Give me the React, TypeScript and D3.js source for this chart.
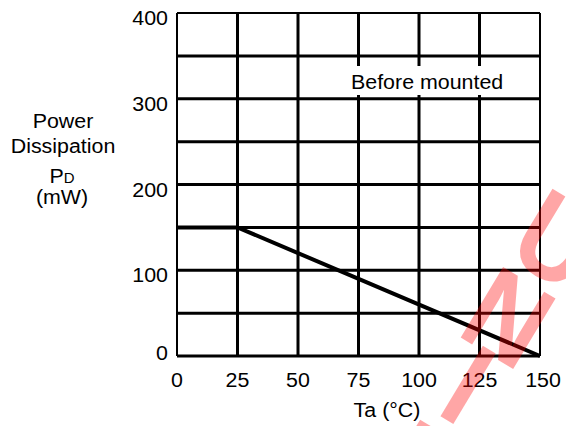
import React from "react";
import * as d3 from "d3";

const tempC = [0, 25, 150];
const powerMW = [150, 150, 0];
const xTicks = [0, 25, 50, 75, 100, 125, 150];
const yTicks = [0, 100, 200, 300, 400];
const yGrid = [0, 50, 100, 150, 200, 250, 300, 350, 400];
const yTitle = ["Power", "Dissipation"];
const xTitle = "Ta (°C)";
const noteLabel = "Before mounted";
const watermarkChars = ["-", "I", "N", "U"];
const watermarkPos: [number, number][] = [
  [433, 424],
  [468, 385],
  [508, 318],
  [558, 240],
];

const W = 566;
const H = 426;
const FONT = "'Liberation Sans', Arial, sans-serif";
const FS = 20;
const SX = 1.07;

function T({
  x,
  y,
  anchor = "start",
  children,
}: {
  x: number;
  y: number;
  anchor?: "start" | "middle" | "end";
  children: React.ReactNode;
}) {
  return (
    <text
      transform={`translate(${x},${y}) scale(${SX},1)`}
      fontSize={FS}
      textAnchor={anchor}
      fill="#000"
    >
      {children}
    </text>
  );
}

export default function App() {
  const x = d3.scaleLinear().domain([0, 150]).range([177, 540]);
  const y = d3.scaleLinear().domain([0, 400]).range([356, 13]);
  const line = d3
    .line<number>()
    .x((_, i) => x(tempC[i]))
    .y((d) => y(d));

  const [x0, x1] = x.range();
  const [y0, y1] = y.range();

  return (
    <svg
      width={W}
      height={H}
      style={{ position: "absolute", left: 0, top: 0, background: "#fff" }}
      fontFamily={FONT}
    >
      <rect x={0} y={0} width={W} height={H} fill="#fff" />
      {yGrid.map((v) => (
        <line
          key={"h" + v}
          x1={x0}
          x2={x1}
          y1={y(v)}
          y2={y(v)}
          stroke="#000"
          strokeWidth={v === 400 ? 2 : 3}
        />
      ))}
      {xTicks.map((v) => (
        <line
          key={"v" + v}
          x1={x(v)}
          x2={x(v)}
          y1={y1}
          y2={y0}
          stroke="#000"
          strokeWidth={v === 0 || v === 150 ? 2 : 3}
        />
      ))}
      <rect x={344} y={66} width={193} height={29} fill="#fff" />
      <T x={351} y={89}>
        {noteLabel}
      </T>
      <path
        d={line(powerMW) || ""}
        fill="none"
        stroke="#000"
        strokeWidth={4}
      />
      {yTicks.map((v) => (
        <T key={"yt" + v} x={168} y={y(v) + (v === 0 ? 4 : 12)} anchor="end">
          {v}
        </T>
      ))}
      {xTicks.map((v) => (
        <T key={"xt" + v} x={x(v) + (v === 150 ? 3 : 0)} y={387} anchor="middle">
          {v}
        </T>
      ))}
      <T x={387} y={417} anchor="middle">
        {xTitle}
      </T>
      <T x={63} y={128} anchor="middle">
        {yTitle[0]}
      </T>
      <T x={63} y={153} anchor="middle">
        {yTitle[1]}
      </T>
      <T x={62} y={183} anchor="middle">
        P<tspan fontSize={14}>D</tspan>
      </T>
      <T x={62} y={204} anchor="middle">
        (mW)
      </T>
      {watermarkChars.map((c, i) => (
        <text
          key={"wm" + i}
          transform={`translate(${watermarkPos[i][0]},${watermarkPos[i][1]}) rotate(31) scale(1,1.15)`}
          fontSize={104}
          fontWeight="bold"
          textAnchor="middle"
          dominantBaseline="central"
          fill="#ff0000"
          fillOpacity={0.35}
          stroke="#ff0000"
          strokeOpacity={0.35}
          strokeWidth={0}
        >
          {c}
        </text>
      ))}
    </svg>
  );
}
